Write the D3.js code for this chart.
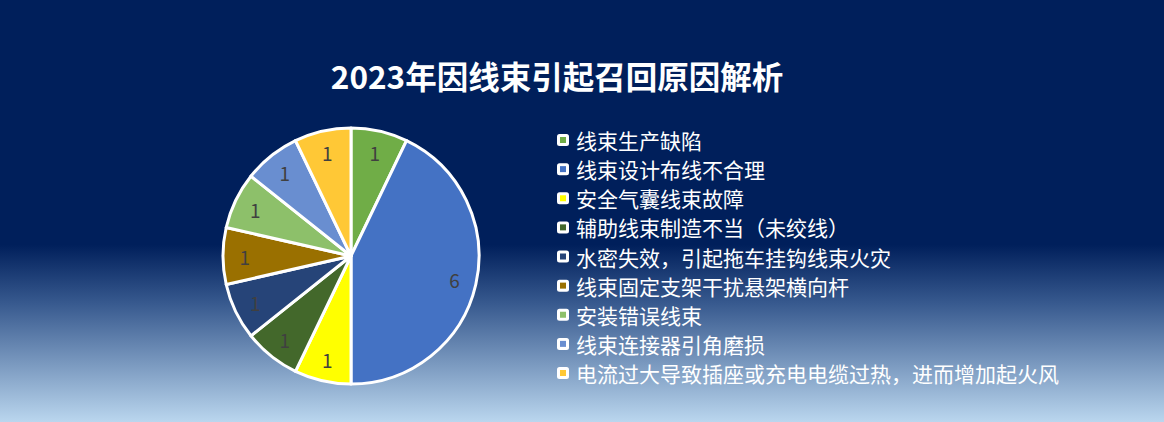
<!DOCTYPE html>
<html>
<head>
<meta charset="utf-8">
<script src="https://cdn.jsdelivr.net/npm/d3@7"></script>
<style>
  html, body { margin: 0; padding: 0; background: #001f5b; }
  svg { display: block; font-family: "Noto Sans CJK SC", "Noto Sans", sans-serif; }
</style>
</head>
<body>
<div id="plot"></div>
<script>
var title = "2023年因线束引起召回原因解析";
var categories = [
    "线束生产缺陷",
    "线束设计布线不合理",
    "安全气囊线束故障",
    "辅助线束制造不当（未绞线）",
    "水密失效，引起拖车挂钩线束火灾",
    "线束固定支架干扰悬架横向杆",
    "安装错误线束",
    "线束连接器引角磨损",
    "电流过大导致插座或充电电缆过热，进而增加起火风"
];
var counts = [1, 6, 1, 1, 1, 1, 1, 1, 1];
var colors = ["#70ad47", "#4472c4", "#ffff00", "#43682b", "#264478",
              "#9a7000", "#8dc06a", "#698ed0", "#ffc836"];

var w = 1164, h = 422;
var cx = 351, cy = 256, radius = 128;

var svg = d3.select("div#plot")
    .append("svg")
        .attr("width", w)
        .attr("height", h)
        .attr("viewBox", "0 0 " + w + " " + h);

// background: flat navy, fading to light blue near the bottom
var grad = svg.append("defs").append("linearGradient")
    .attr("id", "bg")
    .attr("x1", 0).attr("y1", 0).attr("x2", 0).attr("y2", 1);
grad.append("stop").attr("offset", "0").attr("stop-color", "#001f5b");
grad.append("stop").attr("offset", "0.58").attr("stop-color", "#001f5b");
grad.append("stop").attr("offset", "0.72").attr("stop-color", "#385a8f");
grad.append("stop").attr("offset", "1").attr("stop-color", "#bad6ee");
svg.append("rect")
    .attr("width", w).attr("height", h)
    .attr("fill", "url(#bg)");

svg.append("text")
    .attr("x", 557)
    .attr("y", 75)
    .attr("text-anchor", "middle")
    .attr("dominant-baseline", "central")
    .attr("fill", "#ffffff")
    .attr("font-size", 31.5)
    .attr("font-weight", "bold")
    .text(title);

// pie
var pie = d3.pie().sort(null).value(function(d) { return d; });
var arcs = pie(counts);
var arc = d3.arc().innerRadius(0).outerRadius(radius);
var labelArc = d3.arc().innerRadius(radius * 0.83).outerRadius(radius * 0.83);

var g = svg.append("g")
    .attr("transform", "translate(" + cx + "," + cy + ")");

g.selectAll("path")
    .data(arcs)
    .join("path")
        .attr("d", arc)
        .attr("fill", function(d, i) { return colors[i]; })
        .attr("stroke", "#ffffff")
        .attr("stroke-width", 3)
        .attr("stroke-linejoin", "round");

g.selectAll("text")
    .data(arcs)
    .join("text")
        .attr("transform", function(d) {
            return "translate(" + labelArc.centroid(d) + ")";
        })
        .attr("text-anchor", "middle")
        .attr("dominant-baseline", "central")
        .attr("fill", "#404040")
        .attr("font-size", 19)
        .text(function(d) { return d.data; });

// legend
var rowY = d3.scalePoint()
    .domain(d3.range(categories.length))
    .range([140, 373]);

var legend = svg.append("g").attr("transform", "translate(557,0)");
var rows = legend.selectAll("g")
    .data(categories)
    .join("g")
        .attr("transform", function(d, i) { return "translate(0," + rowY(i) + ")"; });

rows.append("rect")
    .attr("x", 0).attr("y", -6)
    .attr("width", 12).attr("height", 12)
    .attr("rx", 2.5)
    .attr("fill", "#ffffff");
rows.append("rect")
    .attr("x", 3).attr("y", -3)
    .attr("width", 6).attr("height", 6)
    .attr("fill", function(d, i) { return colors[i]; });
rows.append("text")
    .attr("x", 19)
    .attr("y", 0)
    .attr("dominant-baseline", "central")
    .attr("fill", "#ffffff")
    .attr("font-size", 21)
    .text(function(d) { return d; });
</script>
</body>
</html>
